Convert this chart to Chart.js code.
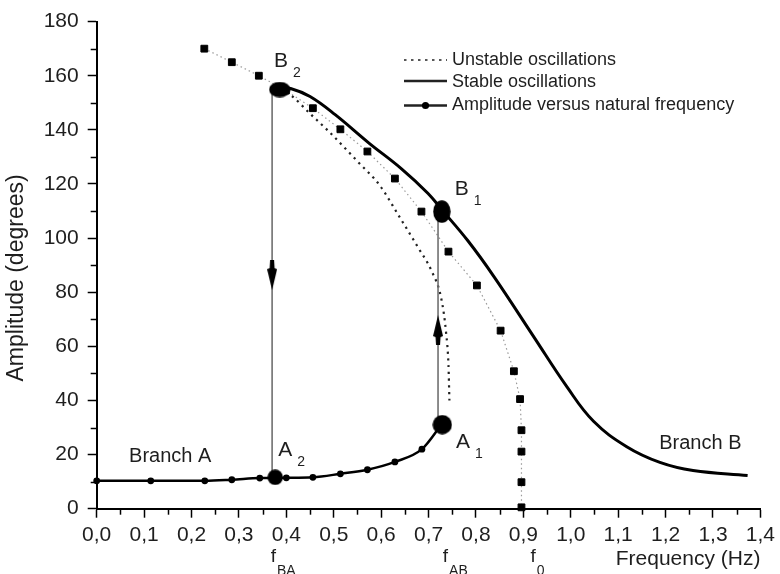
<!DOCTYPE html>
<html><head><meta charset="utf-8">
<script src="https://cdn.jsdelivr.net/npm/chart.js@4"></script>
<style>html,body{margin:0;padding:0;background:#fff}canvas{display:block}</style>
</head><body>
<canvas id="c" width="780" height="574"></canvas>
<script>
// ---- axis ticks ----
const xTicks = [0,0.1,0.2,0.3,0.4,0.5,0.6,0.7,0.8,0.9,1.0,1.1,1.2,1.3,1.4];
const xMinorTicks = [0.05,0.15,0.25,0.35,0.45,0.55,0.65,0.75,0.85,0.95,1.05,1.15,1.25,1.35];
const yTicks = [0,20,40,60,80,100,120,140,160,180];
const yMinorTicks = [10,30,50,70,90,110,130,150,170];

// ---- series ----
const naturalX = [0.227,0.285,0.342,0.399,0.456,0.514,0.571,0.629,0.685,0.742,0.802,0.852,0.880,0.893,0.896,0.896,0.896,0.896];
const naturalY = [170,165,160,154.5,148,140.2,132,122,109.8,95,82.5,65.8,50.8,40.5,29,21.1,9.8,0.5];

const branchAX = [0,0.114,0.228,0.285,0.344,0.400,0.456,0.514,0.571,0.629,0.686,0.727];
const branchAY = [10.3,10.3,10.3,10.7,11.3,11.4,11.6,12.9,14.4,17.3,22,31];

const stableX = [0.386,0.409,0.45,0.503,0.573,0.643,0.699,0.728,0.783,0.839,0.922,0.992,1.048,1.118,1.188,1.258,1.373];
const stableY = [155.4,155.3,152.3,145.6,135.3,125.6,116.5,110.5,99,85.5,63.5,45,32.3,22.9,17.1,14.1,12.3];

const unstableX = [0.388,0.409,0.45,0.489,0.552,0.597,0.636,0.678,0.706,0.727,0.737,0.742,0.744];
const unstableY = [155,152.9,146,139.5,128,119.5,108.6,96.5,88,77.5,65,53,40];

const jumpDownX = [0.370,0.370];
const jumpDownY = [154.9,11.6];
const jumpUpX = [0.720,0.720];
const jumpUpY = [31,109.8];

const markerNames = ['B2','B1','A1','A2'];
const markerX = [0.386,0.728,0.729,0.3765];
const markerY = [154.9,109.8,31.05,11.6];

const arrowX = [0.370,0.720];
const arrowY = [86.3,66.0];

const pointLabels = [
  {main:'B', sub:'2', x:0.374, y:163.2},
  {main:'B', sub:'1', x:0.755, y:115.9},
  {main:'A', sub:'1', x:0.758, y:22.5},
  {main:'A', sub:'2', x:0.383, y:19.3}
];
const branchLabels = [{text:'Branch A', x:0.0683, y:17.1},{text:'Branch B', x:1.1866, y:22}];
const freqLabels = [{main:'f', sub:'BA', x:0.367},{main:'f', sub:'AB', x:0.730},{main:'f', sub:'0', x:0.915}];
const legendItems = ['Unstable oscillations','Stable oscillations','Amplitude versus natural frequency'];

// ---- helpers ----
const FONT = "'Liberation Sans', Arial, sans-serif";
const TXT = '#1e1e1e';
function pts(xs, ys){ return xs.map((x,i)=>({x:x, y:ys[i]})); }
function ellipseImg(w,h){
  const c=document.createElement('canvas'); c.width=w; c.height=h;
  const g=c.getContext('2d'); g.fillStyle='#000'; g.beginPath();
  g.ellipse(w/2,h/2,w/2-0.3,h/2-0.3,0,0,Math.PI*2); g.fill(); return c;
}
function arrowImg(down){
  const w=10,h=30; const c=document.createElement('canvas'); c.width=w; c.height=h;
  const g=c.getContext('2d'); g.fillStyle='#000';
  g.save(); if(!down){ g.translate(0,h); g.scale(1,-1); }
  g.beginPath(); g.moveTo(w/2-2,0); g.lineTo(w/2+2,0); g.lineTo(w/2+2.5,8); g.lineTo(w,9); g.lineTo(w/2,h); g.lineTo(0,9); g.lineTo(w/2-2.5,8); g.closePath(); g.fill();
  g.restore(); return c;
}
const markerStyles = [ellipseImg(22,16), ellipseImg(18,23), ellipseImg(20,20), ellipseImg(16,16)];
const arrowStyles = [arrowImg(true), arrowImg(false)];

const overlay = {
  id:'overlay',
  afterDraw(chart){
    const ctx=chart.ctx, xs=chart.scales.x, ys=chart.scales.y;
    const x0=xs.getPixelForValue(0), y0=ys.getPixelForValue(0);
    ctx.save();
    // minor ticks
    ctx.strokeStyle='#000'; ctx.lineWidth=1.5;
    xMinorTicks.forEach(v=>{ const px=Math.round(xs.getPixelForValue(v))+0.5; ctx.beginPath(); ctx.moveTo(px,y0); ctx.lineTo(px,y0+6); ctx.stroke(); });
    yMinorTicks.forEach(v=>{ const py=Math.round(ys.getPixelForValue(v))+0.5; ctx.beginPath(); ctx.moveTo(x0,py); ctx.lineTo(x0-6,py); ctx.stroke(); });
    // point labels
    ctx.fillStyle=TXT; ctx.textBaseline='alphabetic'; ctx.textAlign='left';
    pointLabels.forEach(l=>{
      const px=xs.getPixelForValue(l.x), py=ys.getPixelForValue(l.y);
      ctx.font='21px '+FONT; ctx.fillText(l.main,px,py);
      const w=ctx.measureText(l.main).width;
      ctx.font='14px '+FONT; ctx.fillText(l.sub,px+w+5,py+10);
    });
    ctx.font='20px '+FONT;
    branchLabels.forEach(l=>{ ctx.fillText(l.text, xs.getPixelForValue(l.x), ys.getPixelForValue(l.y)); });
    freqLabels.forEach(l=>{
      const px=xs.getPixelForValue(l.x);
      ctx.font='19px '+FONT; ctx.fillText(l.main,px,561.5);
      const w=ctx.measureText(l.main).width;
      ctx.font='14px '+FONT; ctx.fillText(l.sub,px+w+1,575);
    });
    // legend
    const lx0=404, lx1=447, tx=452;
    const rows=[60,81,105.5], base=[65,87,110];
    ctx.font='18px '+FONT;
    ctx.strokeStyle='#222';
    ctx.lineWidth=1.6; ctx.setLineDash([2.5,4.5]);
    ctx.beginPath(); ctx.moveTo(lx0,rows[0]); ctx.lineTo(lx1,rows[0]); ctx.stroke();
    ctx.setLineDash([]); ctx.lineWidth=2.5;
    ctx.beginPath(); ctx.moveTo(lx0,rows[1]); ctx.lineTo(lx1,rows[1]); ctx.stroke();
    ctx.beginPath(); ctx.moveTo(lx0,rows[2]); ctx.lineTo(lx1,rows[2]); ctx.stroke();
    ctx.fillStyle='#000'; ctx.beginPath(); ctx.arc((lx0+lx1)/2,rows[2],3.6,0,Math.PI*2); ctx.fill();
    ctx.fillStyle=TXT;
    legendItems.forEach((t,i)=>ctx.fillText(t,tx,base[i]));
    ctx.restore();
  }
};

new Chart(document.getElementById('c'), {
  type:'line',
  data:{ datasets:[
    {label:'points', data:pts(markerX,markerY), showLine:false, pointStyle:markerStyles, pointRadius:6, clip:false},
    {label:'arrows', data:pts(arrowX,arrowY), showLine:false, pointStyle:arrowStyles, pointRadius:6, clip:false},
    {label:'jumpDown', data:pts(jumpDownX,jumpDownY), borderColor:'#707070', borderWidth:1.6, pointRadius:0, tension:0},
    {label:'jumpUp', data:pts(jumpUpX,jumpUpY), borderColor:'#707070', borderWidth:1.6, pointRadius:0, tension:0},
    {label:'Branch A', data:pts(branchAX,branchAY), borderColor:'#000', borderWidth:2.5, cubicInterpolationMode:'monotone',
      pointStyle:'circle', pointRadius:(c)=>c.dataIndex===branchAX.length-1?0:3.4, pointBackgroundColor:'#000', pointBorderWidth:0, clip:false},
    {label:'Stable oscillations', data:pts(stableX,stableY), borderColor:'#000', borderWidth:3, tension:0.4, pointRadius:0},
    {label:'Unstable oscillations', data:pts(unstableX,unstableY), borderColor:'#222', borderWidth:2.2, borderDash:[2.2,4.5], cubicInterpolationMode:'monotone', pointRadius:0},
    {label:'Amplitude versus natural frequency', data:pts(naturalX,naturalY), borderColor:'#9a9a9a', borderWidth:1.2, borderDash:[1.5,3], tension:0,
      pointStyle:'rect', pointRadius:4.8, pointBackgroundColor:'#000', pointBorderColor:'#000', pointBorderWidth:1, clip:false}
  ]},
  plugins:[overlay],
  options:{
    responsive:false, animation:false, devicePixelRatio:1,
    layout:{padding:{top:14, right:14, bottom:0, left:0}},
    plugins:{legend:{display:false}, tooltip:{enabled:false}},
    elements:{line:{fill:false}},
    scales:{
      x:{type:'linear', position:'bottom', min:0, max:1.4,
        afterBuildTicks:(s)=>{ s.ticks = xTicks.map(v=>({value:v})); },
        afterFit:(s)=>{ s.height = 65.3; },
        ticks:{color:TXT, font:{family:FONT, size:21}, padding:5, maxRotation:0, autoSkip:false,
          callback:(v)=>Number(v).toFixed(1).replace('.',',')},
        grid:{display:true, drawOnChartArea:false, drawTicks:true, tickLength:9, tickWidth:1.5, tickColor:'#000'},
        border:{display:true, color:'#000', width:2},
        title:{display:true, text:'Frequency (Hz)', align:'end', color:TXT, font:{family:FONT, size:21}, padding:{top:0, bottom:2.4}}
      },
      y:{type:'linear', position:'left', min:0, max:180,
        afterBuildTicks:(s)=>{ s.ticks = yTicks.map(v=>({value:v})); },
        afterFit:(s)=>{ s.width = 96.7; },
        ticks:{color:TXT, font:{family:FONT, size:21}, padding:9, autoSkip:false},
        grid:{display:true, drawOnChartArea:false, drawTicks:true, tickLength:9, tickWidth:1.5, tickColor:'#000'},
        border:{display:true, color:'#000', width:2},
        title:{display:true, text:'Amplitude (degrees)    ', color:TXT, font:{family:FONT, size:23}, padding:{top:3, bottom:0}}
      }
    }
  }
});
</script>
</body></html>
